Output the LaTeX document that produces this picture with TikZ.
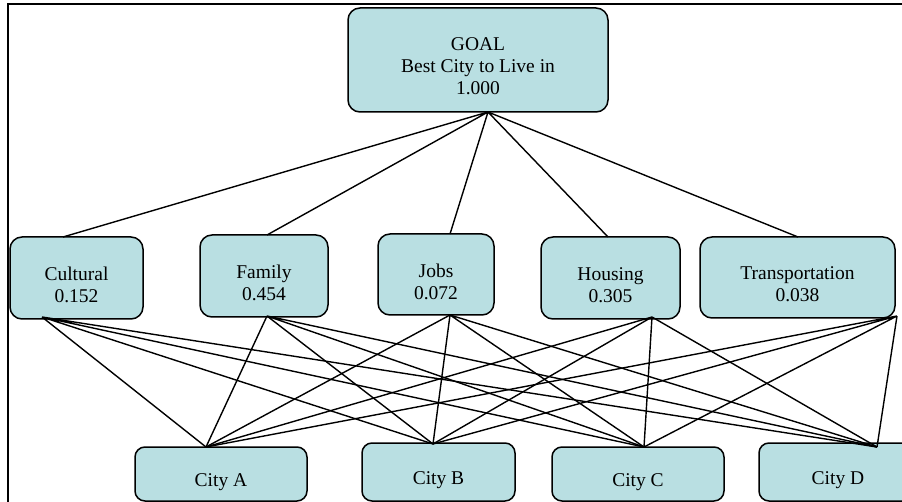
\documentclass[tikz,border=0pt]{standalone}
\usepackage{fontspec}
\setmainfont{Liberation Serif}
\definecolor{boxfill}{RGB}{185,223,226}
\tikzset{
	ahpbox/.style={draw=black, line width=1.5pt, fill=boxfill, rounded corners=12pt, inner sep=0pt},
	citybox/.style={ahpbox, rounded corners=10pt},
	ahptext/.style={align=center, inner sep=0pt, font=\fontsize{19.5}{22}\selectfont},
	ahpline/.style={line width=1.4pt},
}

\begin{document}
\begin{tikzpicture}[x=1pt, y=-1pt]
			%%%%% START %%%%%
			\useasboundingbox (0, 0) rectangle (902, 502);
			\clip (0, 0) rectangle (902, 502);
			
			\draw[line width=2.5pt] (8, 502) -- (8, 4) -- (902, 4);
			
			\node[ahpbox, minimum width=260pt, minimum height=104pt] (goal) at (478, 60) {};
			
			\node[ahpbox, minimum width=133pt, minimum height=82pt] (cul) at (76.5, 278) {};
			\node[ahpbox, minimum width=128pt, minimum height=82pt] (fam) at (264, 276) {};
			\node[ahpbox, minimum width=116pt, minimum height=81pt] (jobs) at (436, 274.5) {};
			\node[ahpbox, minimum width=139pt, minimum height=82pt] (hous) at (610.5, 278) {};
			\node[ahpbox, minimum width=195pt, minimum height=81pt] (trans) at (797.5, 277.5) {};
			
			\node[citybox, minimum width=172pt, minimum height=54pt] (citya) at (221, 474) {};
			\node[citybox, minimum width=153pt, minimum height=58pt] (cityb) at (438.5, 472) {};
			\node[citybox, minimum width=172pt, minimum height=54pt] (cityc) at (638, 474) {};
			\node[citybox, minimum width=158pt, minimum height=58pt] (cityd) at (838, 472) {};
			
			% texts, set a little below the middle of each box
			\node[ahptext] (goal-txt) at ([yshift=-6pt]goal.center) {GOAL\\Best City to Live in\\1.000};
			\node[ahptext] (cul-txt) at ([yshift=-7pt]cul.center) {Cultural\\0.152};
			\node[ahptext] (fam-txt) at ([yshift=-7pt]fam.center) {Family\\0.454};
			\node[ahptext] (jobs-txt) at ([yshift=-7pt]jobs.center) {Jobs\\0.072};
			\node[ahptext] (hous-txt) at ([yshift=-7pt]hous.center) {Housing\\0.305};
			\node[ahptext] (trans-txt) at ([yshift=-7pt]trans.center) {Transportation\\0.038};
			\node[ahptext] (citya-txt) at ([yshift=-8.5pt]citya.center) {City A};
			\node[ahptext] (cityb-txt) at ([yshift=-8.5pt]cityb.center) {City B};
			\node[ahptext] (cityc-txt) at ([yshift=-8.5pt]cityc.center) {City C};
			\node[ahptext] (cityd-txt) at ([yshift=-8.5pt]cityd.center) {City D};
			
			% where the lines meet the boxes
			\coordinate (goal-b) at (488, 112);
			\coordinate (cul-t) at (63, 237);
			\coordinate (fam-t) at (267, 235);
			\coordinate (jobs-t) at (450, 234);
			\coordinate (hous-t) at (608, 237);
			\coordinate (trans-t) at (798, 237);
			\coordinate (cul-b) at (42, 317);
			\coordinate (fam-b) at (267, 316);
			\coordinate (jobs-b) at (450, 315);
			\coordinate (hous-b) at (652, 317);
			\coordinate (trans-b) at (897, 316);
			\coordinate (citya-t) at (206, 447);
			\coordinate (cityb-t) at (433, 444);
			\coordinate (cityc-t) at (644, 447);
			\coordinate (cityd-t) at (877, 447);
			
			\draw[ahpline] (goal-b) -- (cul-t) (goal-b) -- (fam-t) (goal-b) -- (jobs-t) (goal-b) -- (hous-t) (goal-b) -- (trans-t);
			
			\draw[ahpline] (cul-b) -- (citya-t) (cul-b) -- (cityb-t) (cul-b) -- (cityc-t) (cul-b) -- (cityd-t);
			\draw[ahpline] (fam-b) -- (citya-t) (fam-b) -- (cityb-t) (fam-b) -- (cityc-t) (fam-b) -- (cityd-t);
			\draw[ahpline] (jobs-b) -- (citya-t) (jobs-b) -- (cityb-t) (jobs-b) -- (cityc-t) (jobs-b) -- (cityd-t);
			\draw[ahpline] (hous-b) -- (citya-t) (hous-b) -- (cityb-t) (hous-b) -- (cityc-t) (hous-b) -- (cityd-t);
			\draw[ahpline] (trans-b) -- (citya-t) (trans-b) -- (cityb-t) (trans-b) -- (cityc-t) (trans-b) -- (cityd-t);
			
			%%%%% END %%%%%
\end{tikzpicture}
\end{document}
